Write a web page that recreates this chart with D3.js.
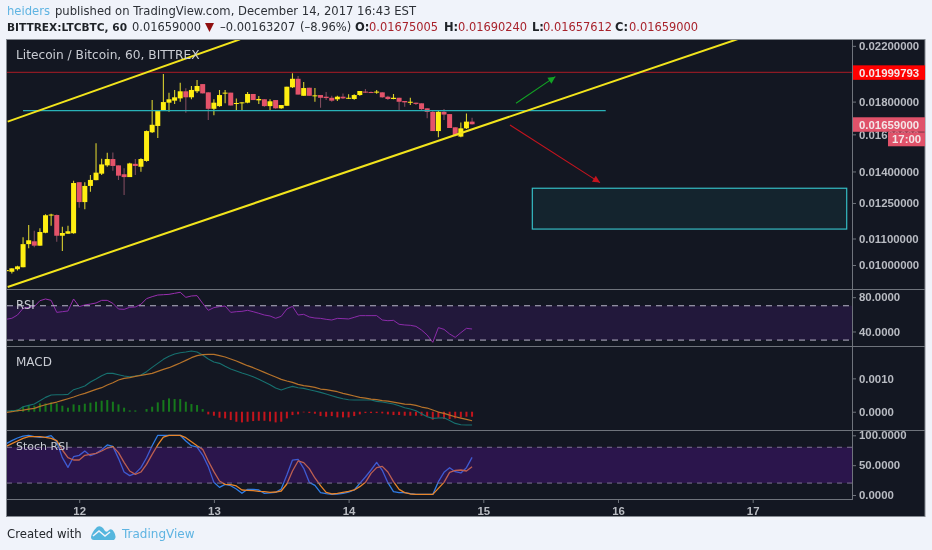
<!DOCTYPE html>
<html lang="en">

<head>
	<meta charset="UTF-8" />
	<title>LTCBTC 60</title>
	<script src="https://cdn.jsdelivr.net/npm/d3@7"></script>
	<style>
		html, body { margin: 0; padding: 0; background: #f0f3fa; overflow: hidden; }
		svg { display: block; filter: blur(0.3px); }
	</style>
</head>

<body>
	<svg id="vis" width="932" height="550"></svg>
	<script>
		// Bougies horaires, du 11 dec 11h au 14 dec 22h
		const opens = [0.00978,
			0.00976, 0.00985, 0.00992, 0.01078, 0.01089, 0.01072, 0.01123, 0.01195, 0.01197, 0.01111, 0.01119, 0.01121,
			0.01347, 0.01254, 0.01329, 0.01357, 0.01389, 0.01431, 0.01464, 0.01431, 0.01386, 0.01372, 0.01439, 0.01424,
			0.01454, 0.01612, 0.01649, 0.01741, 0.01793, 0.01806, 0.01821, 0.01868, 0.01828, 0.01868, 0.01917, 0.01861,
			0.01754, 0.01771, 0.01855, 0.01859, 0.01785, 0.01791, 0.01793, 0.01850, 0.01808, 0.01815, 0.01771, 0.01810,
			0.01757, 0.01773, 0.01895, 0.01954, 0.01838, 0.01892, 0.01838, 0.01843, 0.01832, 0.01825, 0.01815, 0.01832,
			0.01819, 0.01817, 0.01843, 0.01866, 0.01863, 0.01859, 0.01861, 0.01832, 0.01817, 0.01825, 0.01804, 0.01793,
			0.01793, 0.01789, 0.01757, 0.01735, 0.01619, 0.01735, 0.01721, 0.01641, 0.01587, 0.01635, 0.01675];
		const highs = [0.00982,
			0.00988, 0.00997, 0.01105, 0.01155, 0.01131, 0.01141, 0.01200, 0.01202, 0.01199, 0.01148, 0.01152, 0.01354,
			0.01347, 0.01347, 0.01382, 0.01549, 0.01466, 0.01497, 0.01499, 0.01431, 0.01416, 0.01444, 0.01464, 0.01468,
			0.01622, 0.01810, 0.01745, 0.01988, 0.01859, 0.01877, 0.01927, 0.01888, 0.01904, 0.01945, 0.01917, 0.01861,
			0.01815, 0.01877, 0.01877, 0.01859, 0.01821, 0.01795, 0.01863, 0.01850, 0.01837, 0.01815, 0.01815, 0.01810,
			0.01778, 0.01899, 0.01994, 0.01974, 0.01931, 0.01892, 0.01890, 0.01843, 0.01863, 0.01838, 0.01838, 0.01854,
			0.01848, 0.01848, 0.01870, 0.01884, 0.01866, 0.01877, 0.01861, 0.01838, 0.01850, 0.01825, 0.01804, 0.01825,
			0.01793, 0.01789, 0.01757, 0.01746, 0.01740, 0.01752, 0.01721, 0.01641, 0.01670, 0.01725, 0.01698];
		const lows = [0.00978,
			0.00970, 0.00980, 0.00992, 0.01062, 0.01066, 0.01072, 0.01121, 0.01152, 0.01087, 0.01052, 0.01119, 0.01119,
			0.01229, 0.01222, 0.01302, 0.01357, 0.01382, 0.01424, 0.01403, 0.01358, 0.01286, 0.01372, 0.01382, 0.01399,
			0.01450, 0.01608, 0.01579, 0.01741, 0.01735, 0.01785, 0.01799, 0.01729, 0.01815, 0.01857, 0.01854, 0.01685,
			0.01714, 0.01767, 0.01789, 0.01775, 0.01746, 0.01746, 0.01789, 0.01810, 0.01785, 0.01767, 0.01746, 0.01755,
			0.01755, 0.01773, 0.01890, 0.01846, 0.01838, 0.01838, 0.01799, 0.01761, 0.01810, 0.01799, 0.01804, 0.01817,
			0.01817, 0.01812, 0.01838, 0.01857, 0.01857, 0.01852, 0.01825, 0.01810, 0.01815, 0.01740, 0.01767, 0.01778,
			0.01778, 0.01746, 0.01695, 0.01619, 0.01583, 0.01685, 0.01637, 0.01587, 0.01583, 0.01631, 0.01657];
		const closes = [0.00982,
			0.00988, 0.00995, 0.01078, 0.01093, 0.01072, 0.01126, 0.01196, 0.01199, 0.01111, 0.01122, 0.01129, 0.01343,
			0.01254, 0.01329, 0.01358, 0.01394, 0.01436, 0.01464, 0.01428, 0.01379, 0.01372, 0.01441, 0.01428, 0.01464,
			0.01619, 0.01656, 0.01740, 0.01797, 0.01815, 0.01828, 0.01868, 0.01828, 0.01877, 0.01904, 0.01854, 0.01754,
			0.01793, 0.01843, 0.01859, 0.01775, 0.01791, 0.01795, 0.01850, 0.01810, 0.01817, 0.01771, 0.01802, 0.01757,
			0.01778, 0.01899, 0.01954, 0.01846, 0.01890, 0.01838, 0.01841, 0.01825, 0.01823, 0.01806, 0.01832, 0.01821,
			0.01825, 0.01843, 0.01870, 0.01859, 0.01857, 0.01866, 0.01828, 0.01817, 0.01825, 0.01799, 0.01795, 0.01799,
			0.01785, 0.01752, 0.01735, 0.01619, 0.01735, 0.01718, 0.01637, 0.01592, 0.01635, 0.01675, 0.01659];

		const rsiValues = [54.2,
			55.4, 59.2, 67, 68.2, 69, 75.9, 77.9, 76.3, 62.3, 63.1, 63.9, 77.9,
			69, 70.9, 72, 73.2, 76.3, 76.3, 72.8, 66.2, 65.8, 68.2, 68.6, 71.7,
			78.3, 80.6, 82.5, 82.9, 83.3, 84.5, 85.7, 79.8, 81.4, 81.8, 72.8, 64.7,
			67.8, 69, 69.7, 62.3, 63.1, 63.5, 64.7, 63.1, 61.2, 59.2, 58.1, 55.4,
			57.7, 66.2, 69.3, 59.2, 60, 56.9, 55.7, 55.3, 54.2, 53.4, 55.3, 55,
			54.6, 56.5, 58.5, 58.5, 58.5, 58.5, 53.4, 52.6, 53, 48.4, 47.6, 47.2,
			46, 41.7, 35.9, 27.4, 44.5, 42.5, 37.1, 33.2, 38.6, 43.7, 42.9];

		const macdValues = [0.00002,
			0.00003, 0.00004, 0.00015, 0.00019, 0.00023, 0.00033, 0.00043, 0.00050, 0.00051, 0.00051, 0.00052, 0.00066,
			0.00071, 0.00077, 0.00089, 0.00098, 0.00108, 0.00115, 0.00115, 0.00111, 0.00107, 0.00105, 0.00107, 0.00110,
			0.00120, 0.00133, 0.00145, 0.00157, 0.00166, 0.00173, 0.00177, 0.00179, 0.00182, 0.00179, 0.00170, 0.00158,
			0.00149, 0.00145, 0.00136, 0.00128, 0.00122, 0.00116, 0.00111, 0.00105, 0.00097, 0.00089, 0.00081, 0.00071,
			0.00065, 0.00071, 0.00076, 0.00072, 0.00070, 0.00066, 0.00062, 0.00058, 0.00053, 0.00048, 0.00043, 0.00039,
			0.00036, 0.00035, 0.00035, 0.00035, 0.00035, 0.00031, 0.00029, 0.00026, 0.00023, 0.00018, 0.00012, 0.00008,
			0.00003, -0.00006, -0.00015, -0.00020, -0.00019, -0.00018, -0.00026, -0.00035, -0.00039, -0.00040, -0.00040];
		const signalValues = [-0.00002,
			0.00000, 0.00003, 0.00005, 0.00008, 0.00010, 0.00016, 0.00021, 0.00025, 0.00029, 0.00034, 0.00039, 0.00044,
			0.00050, 0.00055, 0.00061, 0.00067, 0.00072, 0.00080, 0.00087, 0.00095, 0.00100, 0.00102, 0.00106, 0.00109,
			0.00112, 0.00115, 0.00121, 0.00127, 0.00132, 0.00139, 0.00146, 0.00154, 0.00162, 0.00168, 0.00171, 0.00172,
			0.00172, 0.00168, 0.00164, 0.00158, 0.00152, 0.00145, 0.00138, 0.00132, 0.00125, 0.00118, 0.00111, 0.00104,
			0.00097, 0.00092, 0.00088, 0.00082, 0.00078, 0.00076, 0.00073, 0.00068, 0.00066, 0.00063, 0.00060, 0.00055,
			0.00051, 0.00047, 0.00043, 0.00041, 0.00038, 0.00036, 0.00033, 0.00032, 0.00029, 0.00026, 0.00023, 0.00022,
			0.00019, 0.00014, 0.00011, 0.00005, -0.00001, -0.00005, -0.00010, -0.00015, -0.00019, -0.00023, -0.00027];
		const histValues = [0.00003,
			0.00005, 0.00007, 0.00015, 0.00020, 0.00018, 0.00025, 0.00025, 0.00028, 0.00025, 0.00018, 0.00012, 0.00022,
			0.00020, 0.00024, 0.00027, 0.00030, 0.00033, 0.00035, 0.00030, 0.00022, 0.00012, 0.00004, 0.00004, 0.00000,
			0.00008, 0.00015, 0.00028, 0.00035, 0.00040, 0.00038, 0.00038, 0.00030, 0.00023, 0.00020, 0.00008, -0.00008,
			-0.00012, -0.00018, -0.00020, -0.00025, -0.00030, -0.00032, -0.00030, -0.00028, -0.00027, -0.00027, -0.00029, -0.00032,
			-0.00030, -0.00020, -0.00010, -0.00008, -0.00002, -0.00004, -0.00006, -0.00013, -0.00015, -0.00013, -0.00017, -0.00017,
			-0.00017, -0.00013, -0.00008, -0.00004, -0.00004, -0.00004, -0.00005, -0.00008, -0.00010, -0.00010, -0.00012, -0.00012,
			-0.00012, -0.00012, -0.00015, -0.00024, -0.00018, -0.00022, -0.00022, -0.00020, -0.00017, -0.00015, -0.00015];

		const stochK = [86,
			91, 95.5, 98.8, 100, 97.7, 96.6, 97.1, 99.4, 89.3, 62.5, 46.3, 64.2,
			66.4, 73.7, 65.9, 69.8, 75.9, 83.8, 81.5, 61.4, 38.5, 32.4, 36.3, 45.8,
			62.5, 82.6, 100, 100, 100, 100, 100, 90.5, 82.6, 80.4, 67, 47.5,
			21.2, 12.8, 17.9, 15.6, 10, 2.8, 9.5, 9.5, 8.4, 2.8, 3.4, 4.5,
			10, 33.5, 58.6, 59.7, 44.7, 21.2, 16.2, 3.9, 2.2, 1.1, 1.7, 2.8,
			5, 8.4, 19.5, 30.2, 41.9, 54.7, 41.3, 20.7, 5.6, 3.9, 3.9, 2.2,
			1, 1, 1, 1, 22.3, 38, 45.8, 39.1, 36.9, 45.8, 63.1];
		const stochD = [81.5,
			86, 90.5, 95, 97.7, 97.7, 97.7, 96.6, 95, 91, 75.4, 62.5, 58.6,
			58.6, 66.4, 68.1, 69.8, 73.7, 78.7, 81, 70.9, 54.7, 40.2, 34.6, 38.5,
			51.4, 68.1, 83.8, 97.1, 100, 100, 100, 96, 89.3, 82.6, 76.5, 57,
			39.1, 23.5, 17.9, 17.3, 15.1, 8.4, 7.8, 7.3, 6.2, 5.6, 4.5, 5,
			6.7, 18.4, 40.2, 57, 54.2, 44.1, 28.5, 15.6, 4.5, 1.7, 2.8, 4.5,
			6.2, 8.4, 14, 21.2, 36.3, 45.8, 48, 38.5, 22.3, 9.5, 3.9, 1.7,
			1, 1, 1, 1, 11.2, 21.2, 38, 41.3, 41.9, 40.2, 47.5];

		// Ticks
		const dayTicks = [12, 13, 14, 15, 16, 17];
		const priceTicks = [0.022, 0.018, 0.016, 0.014, 0.0125, 0.011, 0.01];
		const rsiTicks = [80, 40];
		const macdTicks = [0.001, 0];
		const stochTicks = [100, 50, 0];

		// Dessins sur le graphique (jour, prix)
		const upperChannel = [[11.469, 0.01675], [13.194, 0.02252]];
		const lowerChannel = [[11.469, 0.00924], [16.892, 0.02255]];
		const resistance = [[11.464, 0.01999793], [17.741, 0.01999793]];
		const supportLine = [[11.583, 0.01742], [15.909, 0.01742]];
		const greenArrow = [[15.243, 0.01789], [15.535, 0.01969]];
		const redArrow = [[15.198, 0.01655], [15.866, 0.01345]];
		const targetZone = [[15.364, 0.01318], [17.698, 0.01138]];

		const firstHour = -1;
		const hours = opens.map((d, i) => firstHour + i);
		const dayOf = h => 11.5 + h / 24;

		const font = "'Liberation Sans', Arial, sans-serif";
		const uiFont = "'DejaVu Sans', sans-serif";
		const bg = "#131722";
		const axisColor = "#6f747c";
		const labelColor = "#b8bbc2";
		const up = "#ffee12";
		const down = "#e4536a";

		const scaleX = d3.scaleLinear().domain([11.464, 17.741]).range([7, 852.5]);
		const scaleP = d3.scaleLog().domain([0.009173, 0.022546]).range([289, 39]);
		const scaleR = d3.scaleLinear().domain([23.1, 88.95]).range([346, 289.5]);
		const scaleM = d3.scaleLinear().domain([-0.000548, 0.00197]).range([430, 346]);
		const scaleS = d3.scaleLinear().domain([-6.7, 108.9]).range([499, 430]);

		const svg = d3.select("#vis");

		svg.append("rect").attr("x", 6.5).attr("y", 39.5).attr("width", 918.5).attr("height", 477)
			.attr("fill", bg).attr("stroke", "#858a91").attr("stroke-width", 1);

		let defs = svg.append("defs");
		defs.append("clipPath").attr("id", "clipPrice").append("rect")
			.attr("x", 7).attr("y", 40).attr("width", 845.5).attr("height", 249);
		defs.append("clipPath").attr("id", "clipMain").append("rect")
			.attr("x", 7).attr("y", 40).attr("width", 845.5).attr("height", 459);
		const marker = (id, color) => defs.append("marker").attr("id", id)
			.attr("viewBox", "0 0 10 10").attr("refX", 9).attr("refY", 5)
			.attr("markerUnits", "userSpaceOnUse").attr("markerWidth", 9).attr("markerHeight", 9)
			.attr("orient", "auto")
			.append("path").attr("d", "M1,1 L9,5 L1,9 Z").attr("fill", color);
		marker("headGreen", "#12a324");
		marker("headRed", "#c4141e");

		// Panneau prix
		let gPrice = svg.append("g").attr("clip-path", "url(#clipPrice)");
		const isUp = i => closes[i] >= opens[i];
		const candleWidth = 5;

		gPrice.selectAll("line.wick").data(hours).join("line").attr("class", "wick")
			.attr("x1", h => scaleX(dayOf(h))).attr("x2", h => scaleX(dayOf(h)))
			.attr("y1", (h, i) => scaleP(highs[i])).attr("y2", (h, i) => scaleP(lows[i]))
			.attr("stroke", (h, i) => isUp(i) ? "#d8cf30" : "#7d4a5c")
			.attr("stroke-width", 1.1);

		gPrice.selectAll("rect.body").data(hours).join("rect").attr("class", "body")
			.attr("x", h => scaleX(dayOf(h)) - candleWidth / 2)
			.attr("width", candleWidth)
			.attr("y", (h, i) => scaleP(Math.max(opens[i], closes[i])))
			.attr("height", (h, i) => Math.max(1, scaleP(Math.min(opens[i], closes[i])) - scaleP(Math.max(opens[i], closes[i]))))
			.attr("fill", (h, i) => isUp(i) ? up : down);

		const priceLine = d3.line().x(d => scaleX(d[0])).y(d => scaleP(d[1]));
		const drawPriceLine = (pts, color, w) => gPrice.append("path").attr("d", priceLine(pts))
			.attr("fill", "none").attr("stroke", color).attr("stroke-width", w);

		drawPriceLine(resistance, "#8c1a24", 1.2);
		drawPriceLine(supportLine, "#29b2b8", 1.2);
		drawPriceLine(upperChannel, "#f2e41c", 2);
		drawPriceLine(lowerChannel, "#f2e41c", 2);
		drawPriceLine(greenArrow, "#12a324", 1.1).attr("marker-end", "url(#headGreen)");
		drawPriceLine(redArrow, "#c4141e", 1.1).attr("marker-end", "url(#headRed)");

		gPrice.append("rect")
			.attr("x", scaleX(targetZone[0][0])).attr("y", scaleP(targetZone[0][1]))
			.attr("width", scaleX(targetZone[1][0]) - scaleX(targetZone[0][0]))
			.attr("height", scaleP(targetZone[1][1]) - scaleP(targetZone[0][1]))
			.attr("fill", "#14242e").attr("stroke", "#35bcc4").attr("stroke-width", 1.2);

		// Courbe d'un indicateur
		const drawSeries = (g, values, scale, color, w) => g.append("path")
			.attr("d", d3.line().x((d, i) => scaleX(dayOf(hours[i]))).y(d => scale(d))(values))
			.attr("fill", "none").attr("stroke", color).attr("stroke-width", w).attr("stroke-linejoin", "round");

		let gInd = svg.append("g").attr("clip-path", "url(#clipMain)");

		// RSI
		drawSeries(gInd, rsiValues, scaleR, "#9a2fb0", 1);
		gInd.append("rect").attr("x", 7).attr("width", 845)
			.attr("y", scaleR(70)).attr("height", scaleR(30) - scaleR(70))
			.attr("fill", "rgb(90,30,150)").attr("fill-opacity", 0.22);
		[70, 30].forEach(v => gInd.append("line").attr("x1", 7).attr("x2", 852)
			.attr("y1", scaleR(v)).attr("y2", scaleR(v))
			.attr("stroke", "#b9b6c8").attr("stroke-width", 1).attr("stroke-dasharray", "6 5"));

		// MACD
		gInd.selectAll("rect.hist").data(histValues).join("rect").attr("class", "hist")
			.attr("x", (d, i) => scaleX(dayOf(hours[i])) - 1).attr("width", 2)
			.attr("y", d => scaleM(Math.max(d, 0)))
			.attr("height", d => Math.abs(scaleM(d) - scaleM(0)))
			.attr("fill", d => d >= 0 ? "#16781c" : "#c4141c");
		drawSeries(gInd, macdValues, scaleM, "#17706f", 1.1);
		drawSeries(gInd, signalValues, scaleM, "#b5722a", 1.2);

		// Stoch RSI
		drawSeries(gInd, stochK, scaleS, "#2f7ce6", 1.3);
		drawSeries(gInd, stochD, scaleS, "#e8842a", 1.3);
		gInd.append("rect").attr("x", 7).attr("width", 845)
			.attr("y", scaleS(80)).attr("height", scaleS(20) - scaleS(80))
			.attr("fill", "rgb(95,20,165)").attr("fill-opacity", 0.32);
		[80, 20].forEach(v => gInd.append("line").attr("x1", 7).attr("x2", 852)
			.attr("y1", scaleS(v)).attr("y2", scaleS(v))
			.attr("stroke", "#7f7392").attr("stroke-width", 1).attr("stroke-dasharray", "5 5"));

		// Separateurs
		[289, 346, 430].forEach(y => svg.append("line").attr("x1", 7).attr("x2", 925)
			.attr("y1", y + 0.5).attr("y2", y + 0.5).attr("stroke", axisColor));
		svg.append("line").attr("x1", 7).attr("x2", 853).attr("y1", 499.5).attr("y2", 499.5).attr("stroke", axisColor);
		svg.append("line").attr("x1", 852.5).attr("x2", 852.5).attr("y1", 40).attr("y2", 500).attr("stroke", axisColor);

		// Axes
		const styleAxis = g => {
			g.select(".domain").remove();
			g.selectAll(".tick line").attr("stroke", axisColor);
			g.selectAll(".tick text").attr("fill", labelColor)
				.style("font-family", font).style("font-size", "11.4px").style("font-weight", "bold");
		};
		const rightAxis = (scale, ticks, fmt) => {
			let g = svg.append("g").attr("transform", "translate(853,0)")
				.call(d3.axisRight(scale).tickValues(ticks).tickFormat(fmt).tickSize(3).tickPadding(3));
			styleAxis(g);
		};
		rightAxis(scaleP, priceTicks, d3.format(".8f"));
		rightAxis(scaleR, rsiTicks, d3.format(".4f"));
		rightAxis(scaleM, macdTicks, d3.format(".4f"));
		rightAxis(scaleS, stochTicks, d3.format(".4f"));

		let gx = svg.append("g").attr("transform", "translate(0,500)")
			.call(d3.axisBottom(scaleX).tickValues(dayTicks).tickFormat(d3.format("d")).tickSize(3).tickPadding(4));
		styleAxis(gx);

		// Etiquettes de prix
		const priceTag = (x, w, yTop, h, fill, txt) => {
			svg.append("rect").attr("x", x).attr("y", yTop).attr("width", w).attr("height", h).attr("fill", fill);
			svg.append("text").attr("x", x === 853 ? 859 : x + 4).attr("y", yTop + h / 2 + 4).text(txt)
				.attr("fill", "#f4e6e8").style("font-family", font).style("font-size", "11.4px").style("font-weight", "bold");
		};
		priceTag(853, 72, scaleP(0.01999793) - 7, 14.5, "#ff0000", d3.format(".8f")(0.01999793));
		priceTag(853, 72, scaleP(0.01659) - 7, 14.5, "#e0526a", d3.format(".8f")(0.01659));
		priceTag(888, 37, scaleP(0.01659) + 8, 14, "#e0526a", "17:00");

		// Titres des panneaux
		const paneTitle = (txt, y, size) => svg.append("text").attr("x", 16).attr("y", y).text(txt)
			.attr("fill", "#c9ccd3").style("font-family", uiFont).style("font-size", size + "px");
		paneTitle("Litecoin / Bitcoin, 60, BITTREX", 59, 12.2);
		paneTitle("RSI", 309, 11.5);
		paneTitle("MACD", 366, 12);
		paneTitle("Stoch RSI", 450, 11);

		// En-tete
		const headText = (txt, x, y, color, size, bold) => svg.append("text").attr("x", x).attr("y", y).text(txt)
			.attr("fill", color).style("font-family", uiFont).style("font-size", size + "px")
			.style("font-weight", bold ? "bold" : "normal");
		const ink = "#1f2328";
		const red = "#a8232c";
		headText("heiders", 7, 14.5, "#5fb4e2", 11.6);
		headText("published on TradingView.com, December 14, 2017 16:43 EST", 55, 14.5, "#2c3036", 11.6);
		headText("BITTREX:LTCBTC, 60", 7, 31, ink, 10.6, true);
		headText("0.01659000", 132, 31, "#2c3036", 11.45);
		svg.append("path").attr("d", "M205,23 L214,23 L209.5,32 Z").attr("fill", "#8f0f10");
		headText("\u20130.00163207", 220, 31, "#2c3036", 11.5);
		headText("(\u20138.96%)", 300, 31, "#2c3036", 11.5);
		headText("O:", 355, 31, ink, 11.5, true);
		headText("0.01675005", 369, 31, red, 11.45);
		headText("H:", 444, 31, ink, 11.5, true);
		headText("0.01690240", 458, 31, red, 11.45);
		headText("L:", 532, 31, ink, 11.5, true);
		headText("0.01657612", 543, 31, red, 11.45);
		headText("C:", 615, 31, ink, 11.5, true);
		headText("0.01659000", 629, 31, red, 11.45);

		// Pied de page
		headText("Created with", 7, 538, "#23272c", 11.7);
		svg.append("path")
			.attr("d", "M91,537 Q92,532 97,527 Q100,525 103,528 L105,531 Q107,533 109,530 Q112,528 114,532 Q117,537 114,540 L94,540 Q91,540 91,537 Z")
			.attr("fill", "#55b6de");
		svg.append("path").attr("d", "M93,536 L99,531 L105,536 L110,532")
			.attr("fill", "none").attr("stroke", "#f0f3fa").attr("stroke-width", 1.6);
		headText("TradingView", 122, 538, "#5fb4e2", 12);
	</script>
</body>

</html>
